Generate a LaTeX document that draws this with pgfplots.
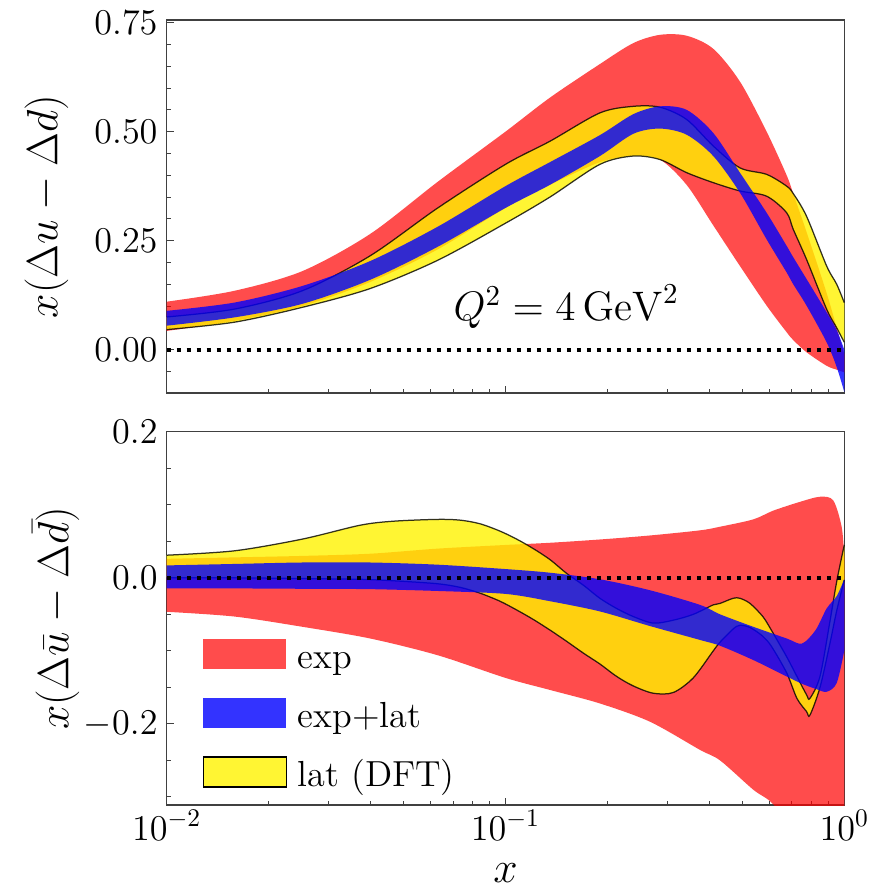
\RequirePackage{fix-cm}
\documentclass[border=0pt]{standalone}
\usepackage{pgfplots}
\usepackage{pgfplotstable}
\pgfplotsset{compat=1.18}
\usepgfplotslibrary{fillbetween}

% top panel: x, upper, lower
\pgfplotstableread{
x u l
0.01 0.110 0.043
0.01585 0.135 0.066
0.02512 0.180 0.100
0.03981 0.265 0.155
0.0631 0.385 0.230
0.1 0.500 0.325
0.1353 0.578 0.378
0.19 0.655 0.430
0.2383 0.703 0.445
0.2858 0.722 0.436
0.3425 0.720 0.378
0.4105 0.690 0.285
0.492 0.615 0.192
0.59 0.500 0.101
0.676 0.400 0.040
0.707 0.358 0.022
0.774 0.270 -0.006
0.887 0.130 -0.037
0.95 0.050 -0.046
1.0 -0.010 -0.052
}\tTopRed
\pgfplotstableread{
x u l
0.01 0.089 0.055
0.01585 0.108 0.074
0.02512 0.146 0.105
0.03981 0.203 0.160
0.0631 0.282 0.236
0.1 0.375 0.325
0.1353 0.430 0.378
0.19 0.492 0.444
0.2383 0.540 0.495
0.2858 0.558 0.507
0.3425 0.550 0.493
0.4105 0.497 0.444
0.492 0.406 0.360
0.59 0.314 0.253
0.676 0.238 0.177
0.707 0.212 0.150
0.774 0.162 0.101
0.887 0.086 0.017
0.95 0.045 -0.040
1.0 0.000 -0.097
}\tTopBlue
\pgfplotstableread{
x u l
0.01 0.075 0.046
0.01585 0.093 0.063
0.02512 0.135 0.097
0.03981 0.215 0.140
0.0631 0.325 0.205
0.1 0.425 0.290
0.1353 0.478 0.350
0.19 0.543 0.425
0.2383 0.558 0.444
0.2858 0.556 0.436
0.3425 0.528 0.406
0.4105 0.467 0.383
0.492 0.417 0.364
0.59 0.402 0.352
0.676 0.375 0.314
0.707 0.358 0.276
0.774 0.306 0.207
0.887 0.192 0.093
0.95 0.150 0.050
1.0 0.108 0.017
}\tTopYel

% bottom panel
\pgfplotstableread{
x u l
0.01 0.026 -0.0465
0.01585 0.028 -0.053
0.02512 0.030 -0.067
0.03981 0.033 -0.083
0.0631 0.040 -0.106
0.1 0.045 -0.137
0.1353 0.048 -0.1535
0.19 0.0525 -0.172
0.267 0.058 -0.197
0.375 0.065 -0.2355
0.43 0.070 -0.250
0.5386 0.080 -0.290
0.6172 0.092 -0.310
0.74 0.104 -0.360
0.848 0.111 -0.400
0.928 0.106 -0.430
0.9825 0.070 -0.450
1.0 0.030 -0.460
}\tBotRed
\pgfplotstableread{
x u l
0.01 0.017 -0.0145
0.01585 0.019 -0.0145
0.02512 0.021 -0.015
0.03981 0.021 -0.0155
0.0631 0.018 -0.018
0.1 0.012 -0.022
0.1353 0.007 -0.032
0.19 -0.002 -0.046
0.267 -0.017 -0.066
0.375 -0.037 -0.085
0.43 -0.050 -0.093
0.5386 -0.067 -0.1125
0.676 -0.083 -0.135
0.75 -0.090 -0.145
0.823 -0.0715 -0.152
0.887 -0.042 -0.156
0.95 -0.025 -0.144
1.0 -0.002 -0.100
}\tBotBlue
\pgfplotstableread{
x u l
0.01 0.031 0.000
0.01585 0.037 0.000
0.02512 0.053 -0.001
0.0372 0.072 -0.002
0.0466 0.0775 -0.004
0.0627 0.080 -0.008
0.0734 0.079 -0.013
0.0841 0.074 -0.021
0.0963 0.064 -0.032
0.1079 0.053 -0.044
0.1208 0.040 -0.057
0.1353 0.025 -0.0715
0.1516 0.006 -0.087
0.1697 -0.010 -0.103
0.19 -0.028 -0.118
0.2129 -0.042 -0.135
0.2383 -0.053 -0.148
0.2731 -0.062 -0.158
0.3128 -0.058 -0.157
0.3583 -0.050 -0.137
0.4105 -0.037 -0.100
0.43 -0.035 -0.088
0.47 -0.028 -0.070
0.492 -0.028 -0.065
0.527 -0.035 -0.068
0.575 -0.053 -0.080
0.61 -0.072 -0.094
0.676 -0.108 -0.130
0.725 -0.135 -0.165
0.774 -0.160 -0.183
0.792 -0.165 -0.188
0.848 -0.135 -0.150
0.907 -0.060 -0.090
0.95 -0.005 -0.045
1.0 0.045 -0.003
}\tBotYel

\begin{document}
\begin{tikzpicture}
\begin{axis}[at={(0pt,164.7pt)}, anchor=south west,
  scale only axis, width=271pt, height=149.3pt,
  xmode=log, xmin=0.01, xmax=1,
  xtick={0.01,0.1,1},
  minor xtick={0.02,0.03,0.04,0.05,0.06,0.07,0.08,0.09,0.2,0.3,0.4,0.5,0.6,0.7,0.8,0.9},
  tick align=inside, tick pos=left,
  major tick length=2.8pt, minor tick length=1.6pt,
  tick style={black!75, line width=0.4pt},
  axis line style={black!75, line width=0.6pt},
  tick label style={font=\fontsize{14.5}{16}\selectfont},
  yticklabel style={inner sep=0pt, xshift=-3.5pt},
  ymin=-0.1, ymax=0.756,
  ytick={0,0.25,0.5,0.75},
  minor ytick={-0.05,0.05,0.1,0.15,0.2,0.3,0.35,0.4,0.45,0.55,0.6,0.65,0.7},
  yticklabel style={/pgf/number format/fixed, /pgf/number format/fixed zerofill, /pgf/number format/precision=2},
  xticklabels={},
  ylabel={$x(\Delta u - \Delta d)$},
  every axis y label/.style={at={(axis description cs:-0.1324,0.5)}, rotate=90, anchor=south, font=\fontsize{17.5}{20}\selectfont},
]
\addplot[name path=tru, draw=none, smooth, forget plot] table[x=x, y=u] {\tTopRed};
\addplot[name path=trl, draw=none, smooth, forget plot] table[x=x, y=l] {\tTopRed};
\addplot[fill=red, fill opacity=0.7, forget plot] fill between[of=tru and trl];
\addplot[name path=tyu, draw=none, smooth, forget plot] table[x=x, y=u] {\tTopYel};
\addplot[name path=tyl, draw=none, smooth, forget plot] table[x=x, y=l] {\tTopYel};
\addplot[fill=yellow, fill opacity=0.8, forget plot] fill between[of=tyu and tyl];
\addplot[black, opacity=0.8, line width=0.5pt, smooth, forget plot, on layer=pre main] table[x=x, y=u] {\tTopYel};
\addplot[black, opacity=0.8, line width=0.5pt, smooth, forget plot, on layer=pre main] table[x=x, y=l] {\tTopYel};
\addplot[name path=tbu, draw=none, smooth, forget plot] table[x=x, y=u] {\tTopBlue};
\addplot[name path=tbl, draw=none, smooth, forget plot] table[x=x, y=l] {\tTopBlue};
\addplot[fill=blue, fill opacity=0.8, forget plot] fill between[of=tbu and tbl];
\addplot[black, line width=1.6pt, dash pattern=on 1.6pt off 2.4pt, forget plot] coordinates {(0.01,0) (1,0)};
\node[anchor=base west, inner sep=0pt, font=\fontsize{16.5}{18}\selectfont] at (axis cs:0.07,0.066) {$Q^2 = 4\,\mathrm{GeV}^2$};
\end{axis}

\begin{axis}[at={(0pt,0pt)}, anchor=south west,
  scale only axis, width=271pt, height=149.3pt,
  xmode=log, xmin=0.01, xmax=1,
  xtick={0.01,0.1,1},
  minor xtick={0.02,0.03,0.04,0.05,0.06,0.07,0.08,0.09,0.2,0.3,0.4,0.5,0.6,0.7,0.8,0.9},
  tick align=inside, tick pos=left,
  major tick length=2.8pt, minor tick length=1.6pt,
  tick style={black!75, line width=0.4pt},
  axis line style={black!75, line width=0.6pt},
  tick label style={font=\fontsize{14.5}{16}\selectfont},
  yticklabel style={inner sep=0pt, xshift=-3.5pt},
  xticklabel style={inner sep=0pt, yshift=-2pt},
  ymin=-0.311, ymax=0.2,
  ytick={-0.2,0,0.2},
  minor ytick={-0.3,-0.25,-0.15,-0.1,-0.05,0.05,0.1,0.15},
  yticklabel style={/pgf/number format/fixed, /pgf/number format/fixed zerofill, /pgf/number format/precision=1},
  ylabel={$x(\Delta\bar{u} - \Delta\bar{d})$},
  every axis y label/.style={at={(axis description cs:-0.116,0.5)}, rotate=90, anchor=south, font=\fontsize{17.5}{20}\selectfont},
  xlabel={$x$},
  every axis x label/.style={at={(axis description cs:0.5,0)}, anchor=base, inner sep=0pt, yshift=-31pt, font=\fontsize{17.5}{20}\selectfont},
  legend image code/.code={\path[#1] (0pt,-0.3pt) rectangle (33.2pt,11.7pt);},
  legend style={at={(axis description cs:0.0531,0.0335)}, anchor=south west,
    draw=none, fill=none, inner sep=0pt, outer sep=0pt,
    row sep=9.2pt, column sep=4.3pt,
    font=\fontsize{14.5}{16}\selectfont,
    nodes={inner sep=0pt, text depth=0.25em},
    cells={anchor=base west}},
]
\addplot[name path=bru, draw=none, smooth, forget plot] table[x=x, y=u] {\tBotRed};
\addplot[name path=brl, draw=none, smooth, forget plot] table[x=x, y=l] {\tBotRed};
\addplot[fill=red, fill opacity=0.7, forget plot] fill between[of=bru and brl];
\addplot[name path=byu, draw=none, smooth, forget plot] table[x=x, y=u] {\tBotYel};
\addplot[name path=byl, draw=none, smooth, forget plot] table[x=x, y=l] {\tBotYel};
\addplot[fill=yellow, fill opacity=0.8, forget plot] fill between[of=byu and byl];
\addplot[black, opacity=0.8, line width=0.5pt, smooth, forget plot, on layer=pre main] table[x=x, y=u] {\tBotYel};
\addplot[black, opacity=0.8, line width=0.5pt, smooth, forget plot, on layer=pre main] table[x=x, y=l] {\tBotYel};
\addplot[name path=bbu, draw=none, smooth, forget plot] table[x=x, y=u] {\tBotBlue};
\addplot[name path=bbl, draw=none, smooth, forget plot] table[x=x, y=l] {\tBotBlue};
\addplot[fill=blue, fill opacity=0.8, forget plot] fill between[of=bbu and bbl];
\addplot[black, line width=1.6pt, dash pattern=on 1.6pt off 2.4pt, forget plot] coordinates {(0.01,0) (1,0)};
\addlegendimage{fill=red, fill opacity=0.7, draw=none}
\addlegendentry{exp}
\addlegendimage{fill=blue, fill opacity=0.8, draw=none}
\addlegendentry{exp+lat}
\addlegendimage{fill=yellow, fill opacity=0.8, draw=black, line width=0.6pt}
\addlegendentry{lat (DFT)}
\end{axis}
\pgfresetboundingbox
\path[use as bounding box] (-66.7pt,-34.4pt) rectangle (287.7pt,322pt);
\end{tikzpicture}
\end{document}
